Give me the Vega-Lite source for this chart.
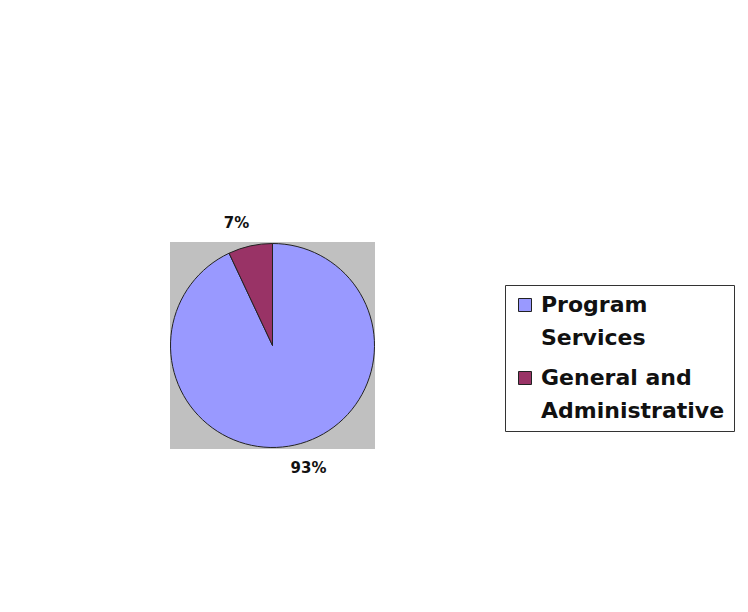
{
  "$schema": "https://vega.github.io/schema/vega-lite/v6.json",
  "width": 205,
  "height": 207,
  "autosize": {"type": "none"},
  "padding": {"left": 170, "top": 242, "right": 373, "bottom": 163},
  "background": "white",
  "view": {"fill": "#c0c0c0", "stroke": null},
  "data": {
    "values": [
      {"Category": "Program Services", "Share": 0.93},
      {"Category": "General and Administrative", "Share": 0.07}
    ]
  },
  "encoding": {
    "theta": {"field": "Share", "type": "quantitative", "stack": true},
    "order": {"field": "Category", "sort": "descending"},
    "color": {
      "field": "Category",
      "type": "nominal",
      "scale": {"domain": ["Program Services", "General and Administrative"], "range": ["#9999ff", "#993366"]},
      "legend": {
        "title": null,
        "orient": "none",
        "legendX": 335,
        "legendY": 43,
        "direction": "vertical",
        "symbolType": "square",
        "symbolSize": 169,
        "symbolStrokeColor": "#222222",
        "symbolStrokeWidth": 1,
        "labelFont": "DejaVu Sans",
        "labelFontWeight": "bold",
        "labelFontSize": 22,
        "labelColor": "#111111",
        "labelLimit": 400,
        "labelOffset": 5,
        "rowPadding": 18,
        "padding": 9,
        "strokeColor": "#333333",
        "fillColor": "white",
        "labelExpr": "datum.label == 'Program Services' ? ['Program', 'Services'] : ['General and', 'Administrative']",
        "encode": {"labels": {"update": {"lineHeight": {"value": 33}}}}
      }
    }
  },
  "layer": [
    {
      "mark": {"type": "arc", "outerRadius": 102, "stroke": "#222222", "strokeWidth": 1}
    },
    {
      "mark": {"type": "text", "radius": 128, "thetaOffset": -0.065, "font": "DejaVu Sans", "fontWeight": "bold", "fontSize": 15, "color": "#111111"},
      "encoding": {
        "text": {"field": "Share", "type": "quantitative", "format": ".0%"},
        "color": {"value": "#111111"}
      }
    }
  ]
}
